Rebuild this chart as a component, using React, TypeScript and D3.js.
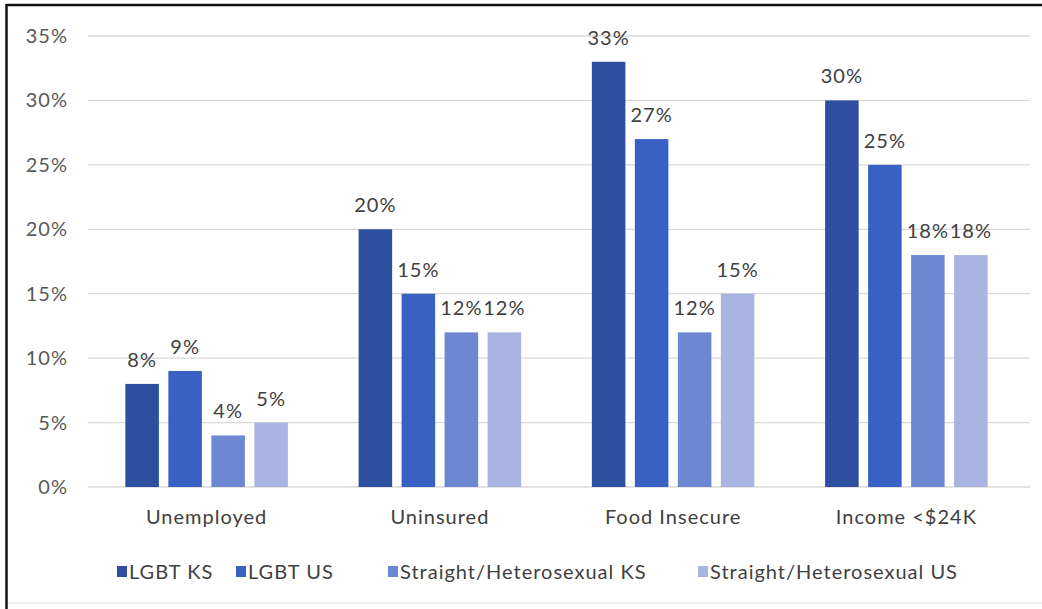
import React from "react";
import * as d3 from "d3";

const categories = ["Unemployed", "Uninsured", "Food Insecure", "Income <$24K"];
const seriesNames = ["LGBT KS", "LGBT US", "Straight/Heterosexual KS", "Straight/Heterosexual US"];
const lgbtKS = [8, 20, 33, 30];
const lgbtUS = [9, 15, 27, 25];
const straightKS = [4, 12, 12, 18];
const straightUS = [5, 12, 15, 18];
const yTicks = [0, 5, 10, 15, 20, 25, 30, 35];
const colors = ["#2e4e9f", "#3961c3", "#6e87d2", "#a9b5e0"];

const series = [lgbtKS, lgbtUS, straightKS, straightUS];

export default function App() {
  const W = 1042, H = 609;
  const x = d3.scaleBand<string>().domain(categories).range([90, 1023]).paddingInner(0).paddingOuter(0);
  const xs = d3.scaleBand<string>().domain(seriesNames).range([-86, 86]).paddingInner(0.22).paddingOuter(0.11);
  const y = d3.scaleLinear().domain([0, 35]).range([487, 36]);
  const font = "Lato, 'Open Sans', sans-serif";
  const fs = 20;
  const ls = 1;
  const legendX = [117, 236, 388, 698];

  return (
    <svg width={W} height={H} style={{ position: "absolute", left: 0, top: 0, background: "#fff" }}>
      <rect x={0} y={0} width={W} height={H} fill="#fff" />
      <line x1={6} y1={5} x2={W} y2={5} stroke="#111" strokeWidth={2.5} />
      <line x1={6.5} y1={4} x2={6.5} y2={H} stroke="#111" strokeWidth={2.5} />
      <line x1={8} y1={603} x2={W} y2={603} stroke="#e0e0e0" strokeWidth={1} />
      {yTicks.map((t) => (
        <line key={t} x1={88} x2={1030} y1={y(t)} y2={y(t)} stroke="#d9d9d9" strokeWidth={1.3} />
      ))}
      {yTicks.map((t) => (
        <text key={"l" + t} x={68} y={y(t)} dy="0.35em" textAnchor="end" fontSize={fs} letterSpacing={ls} fill="#595959" fontFamily={font}>
          {t}%
        </text>
      ))}
      {categories.map((c, ci) => {
        const cx = (x(c) as number) + x.bandwidth() / 2;
        return (
          <g key={c}>
            {series.map((s, si) => {
              const bx = cx + (xs(seriesNames[si]) as number);
              return (
                <g key={si}>
                  <rect x={bx} y={y(s[ci])} width={xs.bandwidth()} height={y(0) - y(s[ci])} fill={colors[si]} />
                  <text x={bx + xs.bandwidth() / 2} y={y(s[ci]) - 17} textAnchor="middle" fontSize={fs} letterSpacing={ls} fill="#404040" fontFamily={font}>
                    {s[ci]}%
                  </text>
                </g>
              );
            })}
            <text x={cx} y={524} textAnchor="middle" fontSize={fs} letterSpacing={ls} fill="#404040" fontFamily={font}>
              {c}
            </text>
          </g>
        );
      })}
      {seriesNames.map((n, i) => (
        <g key={n}>
          <rect x={legendX[i]} y={566} width={10} height={11} fill={colors[i]} />
          <text x={legendX[i] + 12} y={579} fontSize={fs} letterSpacing={ls} fill="#404040" fontFamily={font}>
            {n}
          </text>
        </g>
      ))}
    </svg>
  );
}
